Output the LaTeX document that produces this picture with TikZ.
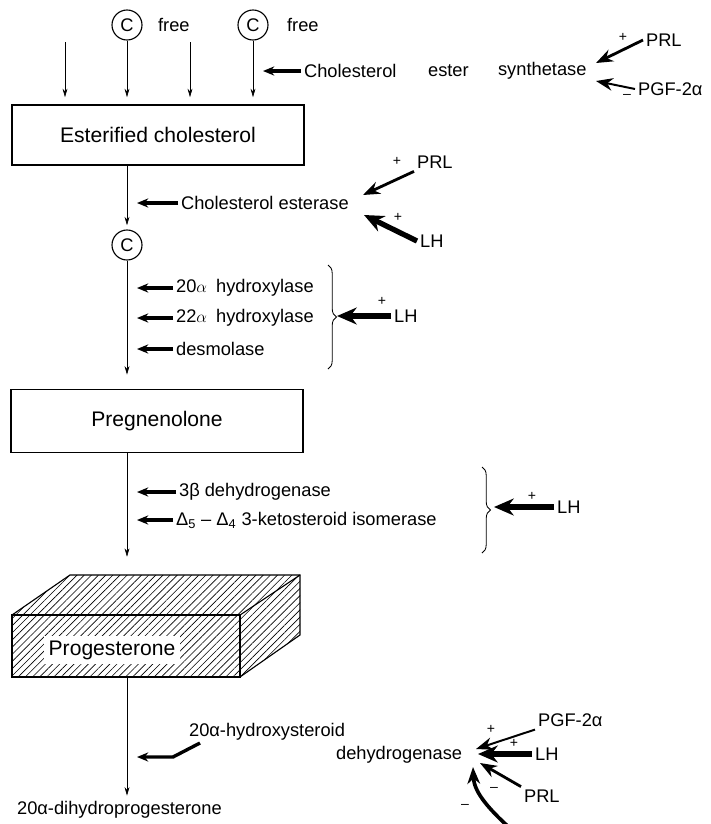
\documentclass[tikz,border=0pt]{standalone}
\usepackage{fontspec}
\setmainfont{Liberation Sans}
\usetikzlibrary{arrows.meta,patterns.meta,decorations.pathreplacing,positioning}

\tikzset{
  lbl/.style={font=\fontsize{13}{15}\selectfont, inner sep=2pt},
  boxlbl/.style={font=\fontsize{15}{17}\selectfont, inner sep=2pt},
  sign/.style={font=\fontsize{10}{10}\selectfont, inner sep=0pt},
  cmol/.style={circle, draw, thick, inner sep=0pt, minimum size=0.75cm, font=\fontsize{13}{15}\selectfont},
  pool/.style={draw, line width=1.2pt, minimum width=7.3cm, boxlbl},
  flow/.style={-{Stealth[length=6pt,width=3.5pt]}, thin},
  enz/.style={-{Stealth[length=8pt,width=6.5pt]}, line width=2.4pt},
  hormone/.style={-{Stealth[length=12pt,width=9pt]}, line width=2pt},
  strong/.style={-{Stealth[length=14pt,width=12pt]}, line width=3.8pt},
  bracket/.style={decorate, decoration={brace, amplitude=6pt}, semithick}
}

\begin{document}
\begin{tikzpicture}[x=0.025cm, y=-0.025cm]
    \useasboundingbox (0,0) rectangle (711,824);
    \coordinate (axisR) at (137,0);

    % free cholesterol
    \node[cmol] (cA) at (127,25) {C};
    \node[cmol] (cB) at (253,25) {C};
    \node[lbl, anchor=west] (freeA) at (155,25) {free};
    \node[lbl, anchor=west] (freeB) at (284,25) {free};
    \coordinate (tA) at (65,42);
    \coordinate (tB) at (190,42);

    \node[pool, minimum height=1.5cm] (ester) at (158,135) {Esterified cholesterol};

    \foreach \s in {tA,cA,tB,cB}
        \draw[flow, shorten >=5pt] (\s) -- (\s |- ester.north);

    % ester synthetase
    \node[lbl, anchor=west] (synA) at (301,71) {Cholesterol};
    \node[lbl, anchor=west] (synB) at (425,71) {ester};
    \node[lbl, anchor=west] (synC) at (495,71) {synthetase};
    \draw[enz] (synA.west) -- ++(-38,0);
    \node[lbl, anchor=west] (prlA) at (643,40) {PRL};
    \node[lbl, anchor=west] (pgfA) at (635,89) {PGF-2α};
    \coordinate (synIn1) at (596,63);
    \coordinate (synIn2) at (596,81);
    \draw[hormone] (prlA.west) -- (synIn1);
    \draw[hormone, line width=1.4pt] (pgfA.west) -- (synIn2);
    \node[sign] at (623,37) {+};
    \node[sign] at (627,96) {\textendash};

    % esterase
    \node[cmol] (cC) at (127,245) {C};
    \draw[flow, shorten >=3pt] (ester.south -| cC) -- (cC);
    \node[lbl, anchor=west] (esterase) at (178,203) {Cholesterol esterase};
    \draw[enz] (esterase.west) -- (esterase.west -| axisR);
    \node[lbl, anchor=west] (prlB) at (414,162) {PRL};
    \node[lbl, anchor=west] (lhA) at (417,241) {LH};
    \coordinate (estIn1) at (363,195);
    \coordinate (estIn2) at (364,215);
    \draw[hormone] (prlB.south west) -- (estIn1);
    \draw[strong] (lhA.west) -- (estIn2);
    \node[sign] at (397,161) {+};
    \node[sign] at (398,217) {+};

    % side chain cleavage
    \node[pool, minimum height=1.575cm] (preg) at (157,421) {Pregnenolone};
    \draw[flow, shorten >=10pt] (cC) -- (preg.north -| cC);
    \node[lbl, anchor=west] (hyd20) at (173,288) {20$\alpha$\enspace hydroxylase};
    \node[lbl, anchor=west] (hyd22) at (173,318) {22$\alpha$\enspace hydroxylase};
    \node[lbl, anchor=west] (desmo) at (173,349) {desmolase};
    \foreach \e in {hyd20,hyd22,desmo}
        \draw[enz] (\e.west) -- (\e.west -| axisR);
    \draw[bracket] (328,265) -- (328,369);
    \node[lbl, anchor=west] (lhB) at (391,316) {LH};
    \draw[strong] (lhB.west) -- ++(-54,0);
    \node[sign] at (382,301) {+};

    % 3beta-HSD
    \coordinate (progTop) at (127,575);
    \draw[flow, shorten >=13pt] (preg.south -| cC) -- (progTop);
    \node[lbl, anchor=west] (hsd3b) at (176,492) {3β dehydrogenase};
    \node[lbl, anchor=west] (isom) at (173,520) {Δ\textsubscript{5} \textendash\ Δ\textsubscript{4} 3-ketosteroid isomerase};
    \foreach \e in {hsd3b,isom}
        \draw[enz] (\e.west) -- (\e.west -| axisR);
    \draw[bracket] (482,467) -- (482,553);
    \node[lbl, anchor=west] (lhC) at (554,507) {LH};
    \draw[strong] (lhC.west) -- ++(-60,0);
    \node[sign] at (532,496) {+};

    % progesterone block
    \fill[pattern={Lines[angle=45, distance=3.6pt, line width=0.45pt]}] (12,615) -- (70,575) -- (300,575) -- (300,635) -- (240,677) -- (12,677) -- cycle;
    \draw[thick] (12,615) rectangle (240,677);
    \draw[thick] (12,615) -- (70,575) -- (300,575) -- (300,635) -- (240,677);
    \draw[thick] (300,575) -- (240,615);
    \node[boxlbl, fill=white, inner sep=3pt] (prog) at (112,650) {Progesterone};

    % 20alpha-HSD
    \coordinate (progBase) at (127,678);
    \node[lbl, anchor=west] (dihyd) at (14,810) {20α-dihydroprogesterone};
    \draw[flow, shorten >=2pt] (progBase) -- (dihyd.north -| progBase);
    \node[lbl, anchor=west] (hsdA) at (186,732) {20α-hydroxysteroid};
    \node[lbl, anchor=west] (hsdB) at (333,755) {dehydrogenase};
    \coordinate (bendA) at (200,743);
    \coordinate (bendB) at (173,757);
    \draw[enz] (bendA) -- (bendB) -- (bendB -| axisR);
    \node[lbl, anchor=west] (pgfB) at (535,720) {PGF-2α};
    \node[lbl, anchor=west] (lhD) at (532,754) {LH};
    \node[lbl, anchor=west] (prlC) at (521,796) {PRL};
    \coordinate (hsdIn1) at (476,749);
    \coordinate (hsdIn2) at (478,754);
    \coordinate (hsdIn3) at (480,763);
    \coordinate (hsdIn4) at (473,767);
    \coordinate (lowIn) at (512,830);
    \draw[hormone, line width=1.4pt] (pgfB.south west) -- (hsdIn1);
    \draw[strong] (lhD.west) -- (hsdIn2);
    \draw[hormone] (prlC.north west) -- (hsdIn3);
    \draw[hormone, line width=2.6pt] (lowIn) .. controls (484,805) and (474,790) .. (hsdIn4);
    \node[sign] at (491,729) {+};
    \node[sign] at (514,743) {+};
    \node[sign] at (494,789) {\textendash};
    \node[sign] at (465,806) {\textendash};
\end{tikzpicture}
\end{document}
